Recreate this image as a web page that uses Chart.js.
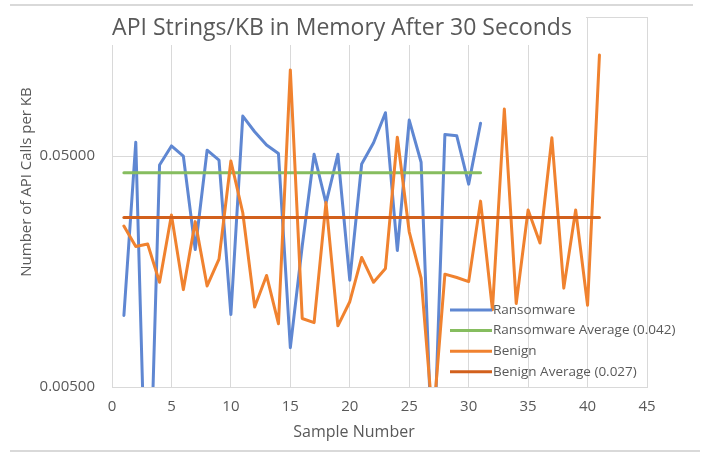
<!DOCTYPE html>
<html>
<head>
<meta charset="utf-8">
<script src="https://cdn.jsdelivr.net/npm/chart.js@4.4.1/dist/chart.umd.min.js"></script>
<style>
  html, body { margin: 0; padding: 0; background: #fff; }
  canvas { display: block; }
</style>
</head>
<body>
<canvas id="myChart" width="706" height="454"></canvas>
<script>
const ransomwareSamples = [1, 2, 3, 4, 5, 6, 7, 8, 9, 10, 11, 12, 13, 14, 15, 16, 17, 18, 19, 20,
  21, 22, 23, 24, 25, 26, 27, 28, 29, 30, 31];
const ransomware = [0.0102, 0.0574, 0.0008, 0.0457, 0.0553, 0.0500, 0.0197, 0.0530, 0.0480, 0.0103,
  0.0745, 0.0637, 0.0558, 0.0513, 0.0074, 0.0204, 0.0509, 0.0313, 0.0509, 0.0145,
  0.0462, 0.0571, 0.0770, 0.0195, 0.0716, 0.0470, 0.0020, 0.0620, 0.0612, 0.0378, 0.0693];

const benignSamples = [1, 2, 3, 4, 5, 6, 7, 8, 9, 10, 11, 12, 13, 14, 15, 16, 17, 18, 19, 20,
  21, 22, 23, 24, 25, 26, 27, 28, 29, 30, 31, 32, 33, 34, 35, 36, 37, 38, 39, 40, 41];
const benign = [0.0249, 0.0203, 0.0208, 0.0142, 0.0278, 0.0132, 0.0260, 0.0137, 0.0179, 0.0476,
  0.0284, 0.0111, 0.0152, 0.0094, 0.1180, 0.0099, 0.0095, 0.0315, 0.0092, 0.0117,
  0.0182, 0.0142, 0.0163, 0.0603, 0.0235, 0.0148, 0.0035, 0.0154, 0.0149, 0.0143,
  0.0319, 0.0108, 0.0799, 0.0115, 0.0292, 0.0210, 0.0600, 0.0134, 0.0292, 0.0113, 0.1368];

const ransomwareAverage = 0.0423;
const benignAverage = 0.0271;

const xTicks = [0, 5, 10, 15, 20, 25, 30, 35, 40, 45];
const yTicks = [0.005, 0.05];

const textColor = "#595959";
const gridColor = "#d9d9d9";
const fontFamily = "'Open Sans', sans-serif";

function pairs(xs, ys) {
  return xs.map((x, i) => ({ x: x, y: ys[i] }));
}
function flat(xs, v) {
  return [{ x: xs[0], y: v }, { x: xs[xs.length - 1], y: v }];
}

const data = {
  datasets: [
    {
      label: "Ransomware",
      data: pairs(ransomwareSamples, ransomware),
      borderColor: "#5f87d2",
      order: 4,
    },
    {
      label: "Ransomware Average (" + ransomwareAverage.toFixed(3) + ")",
      data: flat(ransomwareSamples, ransomwareAverage),
      borderColor: "#86bd5f",
      order: 3,
    },
    {
      label: "Benign",
      data: pairs(benignSamples, benign),
      borderColor: "#f0822f",
      order: 2,
    },
    {
      label: "Benign Average (" + benignAverage.toFixed(3) + ")",
      data: flat(benignSamples, benignAverage),
      borderColor: "#d2601c",
      order: 1,
    },
  ],
};

// titles, plot border and the legend inside the plot, Excel style
const decor = {
  id: "decor",
  beforeDatasetsDraw(chart) {
    const { ctx, chartArea: a } = chart;
    ctx.save();
    ctx.strokeStyle = gridColor;
    ctx.lineWidth = 1;
    ctx.strokeRect(a.left + 0.5, a.top + 0.5, a.right - a.left, a.bottom - a.top);
    ctx.restore();
  },
  afterDraw(chart) {
    const { ctx } = chart;
    ctx.save();
    // outer sheet lines
    ctx.strokeStyle = gridColor;
    ctx.lineWidth = 2;
    ctx.beginPath();
    ctx.moveTo(10, 5);
    ctx.lineTo(693, 5);
    ctx.moveTo(10, 451);
    ctx.lineTo(700, 451);
    ctx.stroke();

    // chart title on white box
    ctx.fillStyle = "#fff";
    ctx.fillRect(100, 8, 486, 37);
    ctx.fillStyle = textColor;
    ctx.font = "23px " + fontFamily;
    ctx.textAlign = "center";
    ctx.textBaseline = "middle";
    ctx.fillText("API Strings/KB in Memory After 30 Seconds", 342, 28);

    // axis titles
    ctx.font = "16px " + fontFamily;
    ctx.fillText("Sample Number", 354, 432);
    ctx.save();
    ctx.translate(27, 182);
    ctx.rotate(-Math.PI / 2);
    ctx.font = "15px " + fontFamily;
    ctx.fillText("Number of API Calls per KB", 0, 0);
    ctx.restore();

    // legend
    ctx.font = "13.5px " + fontFamily;
    ctx.textAlign = "left";
    ctx.lineWidth = 3;
    chart.data.datasets.forEach((ds, i) => {
      const y = 310 + i * 20.6;
      ctx.strokeStyle = ds.borderColor;
      ctx.beginPath();
      ctx.moveTo(450, y);
      ctx.lineTo(492, y);
      ctx.stroke();
      ctx.fillStyle = textColor;
      ctx.fillText(ds.label, 493, y);
    });
    ctx.restore();
  },
};

const config = {
  type: "line",
  data: data,
  options: {
    responsive: false,
    animation: false,
    devicePixelRatio: 1,
    layout: { padding: { top: 17, right: 59, left: 0, bottom: 0 } },
    elements: {
      point: { radius: 0 },
      line: { borderWidth: 3, tension: 0, borderJoinStyle: "round", borderCapStyle: "round" },
    },
    plugins: {
      legend: { display: false },
      title: { display: false },
      tooltip: { enabled: false },
    },
    scales: {
      x: {
        type: "linear",
        min: 0,
        max: 45,
        afterBuildTicks: (s) => { s.ticks = xTicks.map((v) => ({ value: v })); },
        afterFit: (s) => { s.height = 67; s.paddingLeft = 0; s.paddingRight = 0; },
        grid: { color: gridColor, drawTicks: false },
        border: { display: false },
        ticks: { color: textColor, font: { family: fontFamily, size: 15 }, padding: 11 },
      },
      y: {
        type: "logarithmic",
        min: 0.005,
        max: 0.2,
        afterBuildTicks: (s) => { s.ticks = yTicks.map((v) => ({ value: v })); },
        afterFit: (s) => { s.width = 112; s.paddingTop = 0; s.paddingBottom = 0; },
        grid: { color: gridColor, drawTicks: false },
        border: { display: false },
        ticks: {
          color: textColor,
          font: { family: fontFamily, size: 15 },
          padding: 17,
          callback: (v) => Number(v).toFixed(5),
        },
      },
    },
  },
  plugins: [decor],
};

const lineChart = new Chart(document.querySelector("#myChart"), config);
</script>
</body>
</html>
